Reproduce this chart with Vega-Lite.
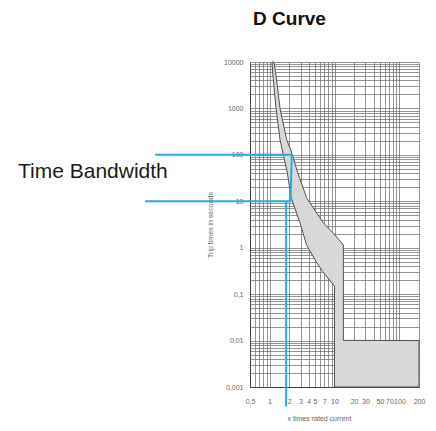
{
  "$schema": "https://vega.github.io/schema/vega-lite/v6.json",
  "autosize": {"type": "none"},
  "width": 169,
  "height": 325,
  "padding": {"left": 250, "top": 62, "right": 17, "bottom": 44},
  "background": "white",
  "config": {
    "view": {"stroke": null},
    "font": "Liberation Sans"
  },
  "title": {
    "text": "D Curve",
    "font": "Liberation Sans",
    "fontSize": 19,
    "fontWeight": "bold",
    "color": "#111111",
    "anchor": "middle",
    "frame": "group",
    "dx": -45,
    "offset": 29
  },
  "datasets": {
    "band": [
      {"t": 10000, "x": 1.09, "x2": 1.17},
      {"t": 5000, "x": 1.13, "x2": 1.26},
      {"t": 1000, "x": 1.26, "x2": 1.45},
      {"t": 210, "x": 1.45, "x2": 1.84},
      {"t": 128, "x": 1.57, "x2": 2.12},
      {"t": 41, "x": 1.88, "x2": 2.72},
      {"t": 11.9, "x": 2.15, "x2": 3.72},
      {"t": 3.45, "x": 2.94, "x2": 6.7},
      {"t": 2.1, "x": 3.27, "x2": 9.46},
      {"t": 1.16, "x": 3.7, "x2": 13.7},
      {"t": 0.5, "x": 5.2, "x2": 13.7},
      {"t": 0.305, "x": 6.6, "x2": 13.7},
      {"t": 0.149, "x": 10, "x2": 13.7},
      {"t": 0.0101, "x": 10, "x2": 13.7},
      {"t": 0.01, "x": 10, "x2": 200},
      {"t": 0.001, "x": 10, "x2": 200}
    ],
    "blue": [
      {"g": "a", "x": 0.0173, "t": 100, "o": 1},
      {"g": "a", "x": 2.2, "t": 100, "o": 2},
      {"g": "a", "x": 2.1, "t": 10, "o": 3},
      {"g": "b", "x": 0.0122, "t": 10, "o": 1},
      {"g": "b", "x": 2.1, "t": 10, "o": 2},
      {"g": "c", "x": 1.8, "t": 10, "o": 1},
      {"g": "c", "x": 1.8, "t": 0.00038, "o": 2}
    ],
    "label": [
      {"x": 0.000134, "t": 42.8, "text": "Time Bandwidth"}
    ]
  },
  "layer": [
    {
      "data": {"name": "band"},
      "mark": {"type": "area", "orient": "horizontal", "fill": "#d8d8d8", "stroke": "#505050", "strokeWidth": 1, "fillOpacity": 1},
      "encoding": {
        "y": {
          "field": "t", "type": "quantitative",
          "scale": {"type": "log", "domain": [0.001, 10000], "nice": false},
          "axis": {
            "title": "Trip times in seconds",
            "titleFont": "Liberation Sans",
            "titleFontSize": 7,
            "titleFontWeight": "normal",
            "titleColor": "#666666",
            "titlePadding": 10,
            "values": [0.001,0.002,0.003,0.004,0.005,0.006,0.007,0.008,0.009,0.01,0.02,0.03,0.04,0.05,0.06,0.07,0.08,0.09,0.1,0.2,0.3,0.4,0.5,0.6,0.7,0.8,0.9,1,2,3,4,5,6,7,8,9,10,20,30,40,50,60,70,80,90,100,200,300,400,500,600,700,800,900,1000,2000,3000,4000,5000,6000,7000,8000,9000,10000],
            "labelExpr": "indexof([0.001,0.01,0.1,1,10,100,1000,10000], datum.value) >= 0 ? replace(toString(datum.value), '.', ',') : ''",
            "labelOverlap": false,
            "labelFlush": false,
            "labelFontSize": 7,
            "labelColor": "#666666",
            "labelPadding": 7,
            "ticks": false,
            "tickSize": 0,
            "grid": true,
            "gridColor": "#727272",
            "gridWidth": 0.75,
            "domainColor": "#444444",
            "domainWidth": 1
          }
        },
        "x": {
          "field": "x", "type": "quantitative",
          "scale": {"type": "log", "domain": [0.5, 200], "nice": false},
          "axis": {
            "title": "x times rated current",
            "titleFont": "Liberation Sans",
            "titleFontSize": 7,
            "titleFontWeight": "normal",
            "titleColor": "#666666",
            "titlePadding": 10,
            "titleX": 69,
            "values": [0.5,0.6,0.7,0.8,0.9,1,2,3,4,5,6,7,8,9,10,20,30,40,50,60,70,80,90,100,200],
            "labelExpr": "indexof([0.5,1,2,3,4,5,7,10,20,30,50,70,100,200], datum.value) >= 0 ? replace(toString(datum.value), '.', ',') : ''",
            "labelOverlap": false,
            "labelFlush": false,
            "labelFontSize": 7,
            "labelColor": "#666666",
            "labelPadding": 10,
            "ticks": false,
            "tickSize": 0,
            "grid": true,
            "gridColor": "#727272",
            "gridWidth": 0.75,
            "domainColor": "#444444",
            "domainWidth": 1
          }
        },
        "x2": {"field": "x2"}
      }
    },
    {
      "data": {"name": "blue"},
      "mark": {"type": "line", "color": "#25ace4", "strokeWidth": 2, "clip": false},
      "encoding": {
        "x": {"field": "x", "type": "quantitative"},
        "y": {"field": "t", "type": "quantitative"},
        "detail": {"field": "g", "type": "nominal"},
        "order": {"field": "o", "type": "quantitative"}
      }
    },
    {
      "data": {"name": "label"},
      "mark": {"type": "text", "align": "left", "baseline": "middle", "font": "Liberation Sans", "fontSize": 21, "color": "#1a1a1a", "clip": false},
      "encoding": {
        "x": {"field": "x", "type": "quantitative"},
        "y": {"field": "t", "type": "quantitative"},
        "text": {"field": "text"}
      }
    }
  ]
}
